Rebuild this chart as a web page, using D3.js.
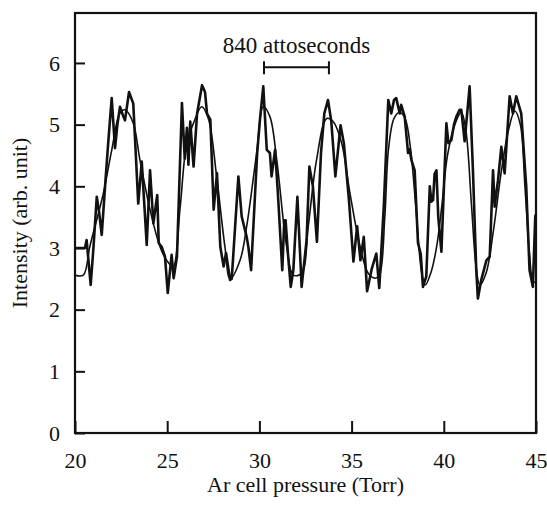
<!DOCTYPE html>
<html>
<head>
<meta charset="utf-8">
<script src="https://cdn.jsdelivr.net/npm/d3@7"></script>
<style>
  body { margin: 0; background: #fff; }
  svg text { font-family: "Liberation Serif", "Times New Roman", serif; fill: #111; }
</style>
</head>
<body>
<div id="chart"></div>
<script>
// 目盛り
const xTicks = [20, 25, 30, 35, 40, 45];
const yTicks = [0, 1, 2, 3, 4, 5, 6];

// 測定データ (太い線)
const measured = [
  [20.0, 3.0], [20.54, 3.0], [20.63, 3.13], [20.85, 2.4], [21.0, 3.0], [21.18, 3.83],
  [21.3, 3.6], [21.45, 3.21], [21.63, 4.0], [21.8, 4.7], [21.99, 5.43], [22.17, 4.62],
  [22.3, 5.0], [22.44, 5.29], [22.6, 5.15], [22.71, 5.07], [22.93, 5.53], [23.16, 5.34],
  [23.43, 3.72], [23.62, 4.4], [23.89, 3.05], [24.07, 4.26], [24.25, 3.4], [24.46, 3.86],
  [24.54, 3.08], [24.7, 3.02], [24.88, 2.86], [25.03, 2.27], [25.24, 2.89], [25.35, 2.51],
  [25.53, 2.86], [25.8, 5.35], [25.95, 4.45], [26.07, 4.95], [26.15, 4.35], [26.25, 5.05],
  [26.43, 4.32], [26.62, 5.18], [26.89, 5.64], [27.05, 5.53], [27.16, 5.18], [27.34, 5.08],
  [27.52, 3.62], [27.7, 4.21], [27.88, 3.02], [28.06, 2.7], [28.19, 2.92], [28.41, 2.48],
  [28.5, 2.5], [28.86, 4.16], [29.04, 3.51], [29.31, 3.18], [29.4, 3.02], [29.55, 2.64],
  [29.88, 4.54], [30.03, 5.08], [30.21, 5.62], [30.4, 4.59], [30.57, 4.54], [30.66, 4.16],
  [30.85, 4.59], [31.0, 3.9], [31.24, 2.64], [31.35, 3.45], [31.42, 3.45], [31.55, 2.9],
  [31.7, 2.37], [31.84, 2.64], [32.06, 3.83], [32.29, 2.37], [32.56, 3.13], [32.71, 4.32],
  [32.9, 4.0], [33.12, 3.1], [33.34, 4.54], [33.52, 5.18], [33.72, 5.4], [33.9, 5.05],
  [34.12, 4.16], [34.4, 4.99], [34.58, 4.7], [34.85, 3.8], [35.1, 2.78], [35.3, 3.35],
  [35.48, 2.8], [35.66, 3.18], [35.84, 2.3], [36.1, 2.67], [36.34, 2.91], [36.5, 2.35],
  [36.75, 3.7], [36.99, 5.4], [37.15, 5.18], [37.3, 5.4], [37.42, 5.43], [37.61, 5.18],
  [37.69, 5.32], [37.88, 5.13], [38.06, 4.54], [38.15, 4.6], [38.24, 4.43], [38.42, 4.26],
  [38.6, 3.08], [38.75, 2.9], [38.87, 2.37], [39.05, 2.54], [39.24, 4.0], [39.33, 3.75],
  [39.42, 3.78], [39.5, 4.2], [39.6, 4.26], [39.7, 3.5], [39.87, 2.94], [40.14, 5.02],
  [40.25, 4.7], [40.41, 4.75], [40.55, 5.0], [40.68, 5.13], [40.86, 5.24], [40.95, 5.24],
  [41.13, 4.73], [41.4, 5.62], [41.58, 4.26], [41.76, 2.64], [41.85, 2.18], [42.03, 2.48],
  [42.31, 2.8], [42.49, 2.86], [42.67, 4.26], [42.76, 3.67], [42.94, 4.1], [43.12, 4.64],
  [43.3, 4.21], [43.57, 5.46], [43.75, 5.18], [43.93, 5.46], [44.2, 5.18], [44.47, 4.0],
  [44.65, 2.64], [44.83, 2.37], [44.96, 3.51], [45.0, 3.55]
];

// フィット曲線 (細い線)
const fitted = [
  [20.0, 2.56], [20.45, 2.56], [20.81, 3.03], [21.54, 3.89], [22.0, 4.6], [22.44, 5.19],
  [22.71, 5.24], [23.15, 5.03], [23.52, 4.43], [24.07, 3.62], [24.61, 3.02], [24.97, 2.8],
  [25.32, 2.7], [25.69, 3.62], [26.06, 4.7], [26.42, 5.02], [26.87, 5.29], [27.23, 5.1],
  [27.68, 4.16], [28.13, 3.02], [28.41, 2.5], [28.95, 2.8], [29.31, 3.35], [29.85, 4.54],
  [30.21, 5.29], [30.57, 5.13], [30.94, 4.43], [31.48, 3.02], [31.84, 2.56], [32.29, 2.59],
  [32.65, 3.35], [33.1, 4.43], [33.65, 5.1], [34.0, 5.05], [34.46, 4.7], [34.91, 3.89],
  [35.46, 3.02], [35.9, 2.59], [36.27, 2.51], [36.5, 2.55], [36.8, 3.5], [37.0, 4.6],
  [37.3, 5.1], [37.6, 5.2], [37.9, 5.1], [38.2, 4.6], [38.5, 3.6], [38.8, 2.6],
  [39.0, 2.4], [39.3, 2.6], [39.6, 3.0], [39.9, 3.7], [40.2, 4.5], [40.6, 5.0],
  [40.95, 5.2], [41.2, 4.9], [41.5, 3.7], [41.75, 2.7], [41.95, 2.4], [42.3, 2.6],
  [42.7, 3.3], [43.1, 4.2], [43.5, 4.9], [43.85, 5.22], [44.15, 5.0], [44.4, 4.0],
  [44.65, 2.9], [44.85, 2.45], [45.0, 2.45]
];

// 注釈 (840 attoseconds の区間)
const periodLabel = "840 attoseconds";
const periodRange = [30.25, 33.77];
const periodLevel = 5.93;

const xTitle = "Ar cell pressure (Torr)";
const yTitle = "Intensity (arb. unit)";

function draw() {
  const W = 547, H = 505;
  const margin = { left: 75, top: 13, right: 11, bottom: 72 };
  const serif = "'Liberation Serif', 'Times New Roman', serif";
  const svg = d3.select("#chart").append("svg")
    .attr("width", W)
    .attr("height", H);

  const xScale = d3.scaleLinear().domain([20, 45]).range([margin.left, W - margin.right]);
  const yScale = d3.scaleLinear().domain([0, 6.81]).range([H - margin.bottom, margin.top]);

  // x軸 (目盛りは内向き)
  const xAxis = svg.append("g")
    .attr("transform", `translate(0,${yScale(0)})`)
    .call(d3.axisBottom(xScale).tickValues(xTicks).tickFormat(d3.format("d"))
      .tickSizeInner(-12).tickSizeOuter(0).tickPadding(19));
  xAxis.attr("font-family", serif).attr("font-size", 22);
  xAxis.select(".domain").remove();
  xAxis.selectAll("line").attr("stroke", "#111").attr("stroke-width", 2);
  xAxis.selectAll("text").attr("fill", "#111");

  // y軸
  const yAxis = svg.append("g")
    .attr("transform", `translate(${xScale(20)},0)`)
    .call(d3.axisLeft(yScale).tickValues(yTicks).tickFormat(d3.format("d"))
      .tickSizeInner(-10).tickSizeOuter(0).tickPadding(15));
  yAxis.attr("font-family", serif).attr("font-size", 22);
  yAxis.select(".domain").remove();
  yAxis.selectAll("line").attr("stroke", "#111").attr("stroke-width", 2);
  yAxis.selectAll("text").attr("fill", "#111");

  // 枠
  svg.append("rect")
    .attr("x", xScale(20))
    .attr("y", yScale(6.81))
    .attr("width", xScale(45) - xScale(20))
    .attr("height", yScale(0) - yScale(6.81))
    .attr("fill", "none")
    .attr("stroke", "#111")
    .attr("stroke-width", 2.2);

  const line = d3.line()
    .x(d => xScale(d[0]))
    .y(d => yScale(d[1]));

  // フィット曲線
  svg.append("path")
    .datum(fitted)
    .attr("fill", "none")
    .attr("stroke", "#111")
    .attr("stroke-width", 1.6)
    .attr("d", line.curve(d3.curveCatmullRom));

  // 測定データ
  svg.append("path")
    .datum(measured)
    .attr("fill", "none")
    .attr("stroke", "#111")
    .attr("stroke-width", 2.6)
    .attr("stroke-linejoin", "round")
    .attr("d", line.curve(d3.curveLinear));

  // 840 attoseconds のバー
  const bar = svg.append("g").attr("stroke", "#111").attr("stroke-width", 2);
  bar.append("line")
    .attr("x1", xScale(periodRange[0])).attr("x2", xScale(periodRange[1]))
    .attr("y1", yScale(periodLevel)).attr("y2", yScale(periodLevel));
  periodRange.forEach(p => {
    bar.append("line")
      .attr("x1", xScale(p)).attr("x2", xScale(p))
      .attr("y1", yScale(periodLevel) - 6).attr("y2", yScale(periodLevel) + 7);
  });
  svg.append("text")
    .attr("x", xScale((periodRange[0] + periodRange[1]) / 2))
    .attr("y", yScale(periodLevel) - 14)
    .attr("text-anchor", "middle")
    .attr("font-size", 23)
    .text(periodLabel);

  // 軸タイトル
  svg.append("text")
    .attr("x", (xScale(20) + xScale(45)) / 2)
    .attr("y", 492)
    .attr("text-anchor", "middle")
    .attr("font-size", 22)
    .text(xTitle);
  svg.append("text")
    .attr("transform", `translate(27,${(yScale(0) + yScale(6.81)) / 2}) rotate(-90)`)
    .attr("text-anchor", "middle")
    .attr("font-size", 22)
    .text(yTitle);
}
draw();
</script>
</body>
</html>
